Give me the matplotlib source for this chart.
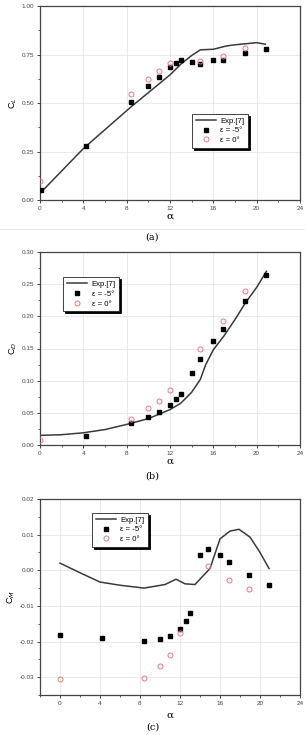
import numpy as np
import matplotlib
matplotlib.use('Agg')
import matplotlib.pyplot as plt
from matplotlib.ticker import MultipleLocator, AutoMinorLocator

plt.rcParams['font.family'] = ['Liberation Sans', 'DejaVu Sans']

# ─── data ───
# (a) lift coefficient
cl_exp_a = [0.1, 4, 8.4, 12, 13, 14, 14.8, 16, 17.2, 18, 19.1, 20, 20.8]
cl_exp_v = [0.04, 0.265, 0.48, 0.645, 0.70, 0.745, 0.774, 0.777, 0.794, 0.80, 0.806, 0.811, 0.803]
cl_m5_a = [0.1, 4.2, 8.4, 10, 11, 12, 12.6, 13, 14, 14.8, 16, 16.9, 18.9, 20.9]
cl_m5_v = [0.05, 0.28, 0.505, 0.59, 0.635, 0.683, 0.705, 0.72, 0.713, 0.703, 0.722, 0.722, 0.76, 0.778]
cl_0_a = [0, 8.4, 10, 11, 12, 14.8, 16.9, 18.9]
cl_0_v = [0.10, 0.548, 0.622, 0.667, 0.705, 0.716, 0.742, 0.782]

# (b) drag coefficient
cd_exp_a = [0, 2, 4, 6, 8, 10, 11, 12, 13, 14, 14.8, 15.3, 16, 17, 18, 19, 20, 20.9]
cd_exp_v = [0.015, 0.016, 0.019, 0.024, 0.032, 0.041, 0.048, 0.055, 0.065, 0.082, 0.102,
            0.125, 0.148, 0.17, 0.195, 0.222, 0.245, 0.27]
cd_m5_a = [4.2, 8.4, 10, 11, 12, 12.6, 13, 14, 14.8, 16, 16.9, 18.9, 20.9]
cd_m5_v = [0.014, 0.034, 0.044, 0.052, 0.062, 0.072, 0.079, 0.112, 0.134, 0.161, 0.181, 0.224, 0.264]
cd_0_a = [0, 8.4, 10, 11, 12, 14.8, 16.9, 18.9]
cd_0_v = [0.007, 0.041, 0.057, 0.069, 0.085, 0.149, 0.193, 0.239]

# (c) moment coefficient
cm_exp_a = [0, 2, 4, 6, 8.4, 10.5, 11.6, 12.5, 13.5, 15, 16, 17, 17.9, 19, 20, 20.9]
cm_exp_v = [0.002, -0.0007, -0.0033, -0.0042, -0.005, -0.004, -0.0025, -0.0038, -0.004,
            0.0005, 0.0088, 0.011, 0.0115, 0.0093, 0.005, 0.0005]
cm_m5_a = [0, 4.2, 8.4, 10, 11, 12, 12.6, 13, 14, 14.8, 16, 16.9, 18.9, 20.9]
cm_m5_v = [-0.0183, -0.019, -0.0198, -0.0193, -0.0184, -0.0164, -0.0142, -0.012, 0.0042,
           0.006, 0.0044, 0.0022, -0.0012, -0.0041]
cm_0_a = [0, 8.4, 10, 11, 12, 14.8, 16.9, 18.9]
cm_0_v = [-0.0305, -0.0303, -0.0269, -0.0237, -0.0175, 0.0013, -0.0027, -0.0052]

W, H = 305, 735
fig = plt.figure(figsize=(W / 100, H / 100), dpi=100)
fig.patch.set_facecolor('white')

line_c = '#3a3a3a'
pink = '#e8788a'


def px_axes(top, bottom, left=40, right=300):
    return fig.add_axes([left / W, 1 - bottom / H, (right - left) / W, (bottom - top) / H])


def style(ax, ylabel_sub, xpad=1):
    for s in ax.spines.values():
        s.set_color('#444444')
        s.set_linewidth(0.9)
    ax.tick_params(which='major', direction='out', length=2.5, width=0.7,
                   labelsize=4.6, colors='#444444', pad=1.5)
    ax.tick_params(which='minor', direction='out', length=1.5, width=0.6, colors='#444444')
    ax.xaxis.set_major_locator(MultipleLocator(4))
    ax.xaxis.set_minor_locator(AutoMinorLocator(2))
    ax.yaxis.set_minor_locator(AutoMinorLocator(2))
    ax.grid(True, which='major', color='#e2e2e2', linewidth=0.5)
    ax.set_axisbelow(True)
    ax.set_xlabel('α', family='DejaVu Serif', fontsize=7.5, labelpad=xpad)
    ax.set_ylabel(f'C$_{{{ylabel_sub}}}$', fontsize=6.5, labelpad=2)


def draw(ax, ea, ev, sa, sv, ca, cv):
    ax.plot(ea, ev, color=line_c, lw=1.1, label='Exp.[7]', zorder=2)
    ax.plot(sa, sv, 's', color='black', ms=3.2, lw=0, label='ε = -5°', zorder=3)
    ax.plot(ca, cv, 'o', mfc='none', mec=pink, mew=0.7, ms=3.6, lw=0, label='ε = 0°', zorder=4)


def legend(ax, bbox):
    lg = ax.legend(loc='upper left', bbox_to_anchor=bbox, fontsize=5.6, frameon=True,
                   fancybox=False, edgecolor='#222222', handlelength=2.6,
                   borderpad=0.45, labelspacing=0.3, handletextpad=0.6, borderaxespad=0,
                   shadow={'color': 'black', 'alpha': 1.0, 'ox': 1.5, 'oy': -1.5})
    lg.get_frame().set_linewidth(0.6)


# ─── Panel (a) ───
ax1 = px_axes(6, 200)
draw(ax1, cl_exp_a, cl_exp_v, cl_m5_a, cl_m5_v, cl_0_a, cl_0_v)
style(ax1, 'L')
ax1.set_xlim(0, 24)
ax1.set_ylim(0, 1.0)
ax1.yaxis.set_major_locator(MultipleLocator(0.25))
ax1.yaxis.set_major_formatter(plt.FormatStrFormatter('%.2f'))
legend(ax1, (0.585, 0.445))

# ─── Panel (b) ───
ax2 = px_axes(252, 445)
draw(ax2, cd_exp_a, cd_exp_v, cd_m5_a, cd_m5_v, cd_0_a, cd_0_v)
style(ax2, 'D')
ax2.set_xlim(0, 24)
ax2.set_ylim(0, 0.30)
ax2.yaxis.set_major_locator(MultipleLocator(0.05))
ax2.yaxis.set_major_formatter(plt.FormatStrFormatter('%.2f'))
legend(ax2, (0.09, 0.87))

# ─── Panel (c) ───
ax3 = px_axes(499, 695)
draw(ax3, cm_exp_a, cm_exp_v, cm_m5_a, cm_m5_v, cm_0_a, cm_0_v)
style(ax3, 'M', xpad=4)
ax3.set_xlim(-2, 24)
ax3.set_ylim(-0.035, 0.02)
ax3.yaxis.set_major_locator(MultipleLocator(0.01))
ax3.yaxis.set_major_formatter(plt.FormatStrFormatter('%.2f'))
legend(ax3, (0.2, 0.93))

# sub-captions
for y, t in [(237, '(a)'), (476, '(b)'), (727, '(c)')]:
    fig.text(0.5, 1 - y / H, t, ha='center', va='center', family='DejaVu Serif', fontsize=7)
fig.add_artist(plt.Line2D([0, 1], [1 - 229 / H] * 2, color='#e6e6e6', lw=0.6))

fig.savefig('out.png', dpi=100, facecolor='white')
